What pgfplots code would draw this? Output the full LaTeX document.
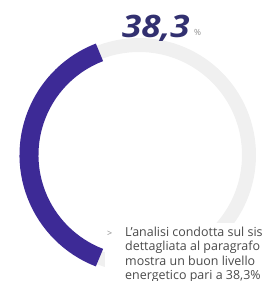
\documentclass[border=0pt]{standalone}
\usepackage{pgfplots}
\pgfplotsset{compat=1.18}
\usepackage{graphicx}
\usepackage{fontspec}
\setmainfont{Open Sans}
\definecolor{ringpurple}{RGB}{61,42,150}
\definecolor{ringgrey}{RGB}{240,240,240}
\definecolor{numcol}{RGB}{50,48,112}
\definecolor{txtcol}{RGB}{75,75,75}
\definecolor{pctcol}{RGB}{140,140,140}
\begin{document}
\begin{tikzpicture}
\pgfmathsetmacro{\gval}{38.3}
\pgfmathsetmacro{\sa}{180-\gval*1.8}
\pgfmathsetmacro{\ea}{180+\gval*1.8}
\begin{axis}[at={(0,0)}, anchor=south west, x=1bp, y=1bp,
  xmin=0, xmax=262, ymin=0, ymax=281, hide axis, clip=true]
\addplot[draw=none] coordinates {(0,0) (262,281)};
\draw[ringgrey, line width=14bp] (axis cs:139,126) circle[radius=110];
\draw[ringpurple, line width=19bp] (axis cs:139,126) ++(\sa:110bp) arc[start angle=\sa, end angle=\ea, radius=110bp];
\node[anchor=base west, inner sep=0, text=numcol, font=\fontsize{31}{31}\selectfont\bfseries\itshape] at (axis cs:122,244) {\scalebox{1.13}[1]{38,3}};
\node[anchor=base west, inner sep=0, text=pctcol, font=\fontsize{8.5}{8.5}\selectfont] at (axis cs:194,246) {\%};
\fill[white] (axis cs:105,0) rectangle (axis cs:262,58);
\node[anchor=base west, inner sep=0, text=pctcol, font=\fontsize{9}{9}\selectfont] at (axis cs:107,45) {>};
\node[anchor=base west, inner sep=0, text=txtcol, font=\fontsize{12.5}{12.5}\selectfont] at (axis cs:125,45) {L'analisi condotta sul sistema};
\node[anchor=base west, inner sep=0, text=txtcol, font=\fontsize{12.5}{12.5}\selectfont] at (axis cs:125,30.5) {dettagliata al paragrafo};
\node[anchor=base west, inner sep=0, text=txtcol, font=\fontsize{12.5}{12.5}\selectfont] at (axis cs:125,16) {mostra un buon livello};
\node[anchor=base west, inner sep=0, text=txtcol, font=\fontsize{12.5}{12.5}\selectfont] at (axis cs:125,1.5) {energetico pari a 38,3\%};
\end{axis}
\pgfresetboundingbox
\path[use as bounding box] (0,0) rectangle (262bp,281bp);
\end{tikzpicture}
\end{document}
